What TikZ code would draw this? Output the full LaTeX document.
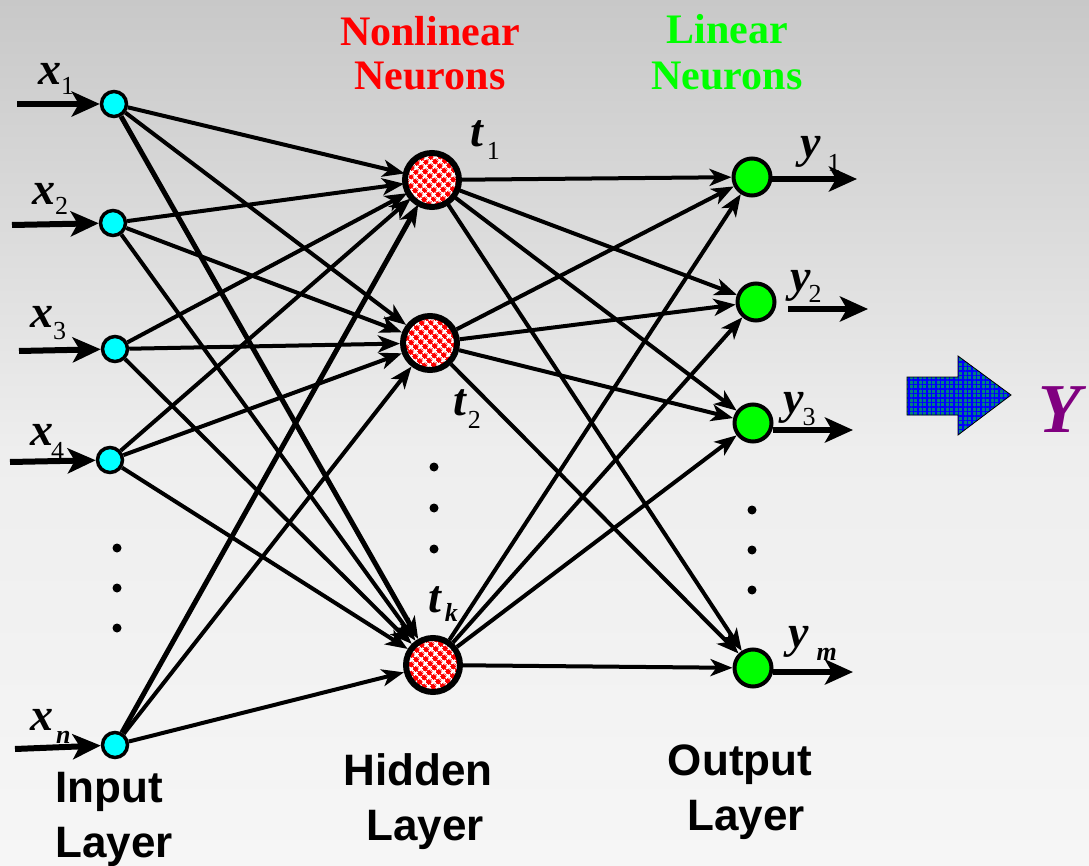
\documentclass[tikz,border=0pt]{standalone}
\usepackage{fontspec}
\setmainfont{Liberation Serif}
\newfontfamily\arialf{Liberation Sans}
\usetikzlibrary{arrows.meta,patterns.meta}
\definecolor{bgtop}{RGB}{200,200,200}
\definecolor{bgmid}{RGB}{238,238,238}
\definecolor{bgbot}{RGB}{246,246,246}
\definecolor{nred}{RGB}{255,0,0}
\definecolor{ngreen}{RGB}{0,255,0}
\definecolor{ncyan}{RGB}{0,255,255}
\definecolor{ypurple}{RGB}{128,0,128}
\definecolor{gridteal}{RGB}{0,128,128}
\newcommand\vlab[3]{{\fontsize{46}{46}\selectfont\bfseries\itshape #1}\raisebox{-#3}{\fontsize{26}{26}\selectfont #2}}
\begin{document}
\begin{tikzpicture}[x=1pt,y=-1pt,
  innode/.style={circle,draw=black,line width=3.5pt,fill=ncyan,minimum size=25pt,inner sep=0pt},
  hidnode/.style={circle,draw=black,line width=6pt,minimum size=54pt,inner sep=0pt,
     preaction={fill=nred},
     pattern={Hatch[angle=45,distance=6.5pt,line width=2.2pt]},pattern color=white},
  outnode/.style={circle,draw=black,line width=4pt,fill=ngreen,minimum size=37pt,inner sep=0pt},
  conn/.style={line width=4pt,-{Stealth[length=22pt,width=17pt,inset=6pt]}},
  thickconn/.style={conn,line width=5pt},
  ioarrow/.style={line width=6pt,-{Stealth[length=28pt,width=25pt,inset=7pt]}},
  lab/.style={anchor=base west,inner sep=0pt},
  dotn/.style={circle,fill=black,minimum size=9pt,inner sep=0pt},
  title/.style={anchor=base,inner sep=0pt,font=\fontsize{42}{42}\selectfont\bfseries},
  layer/.style={anchor=base,inner sep=0pt,font=\arialf\fontsize{44}{44}\selectfont\bfseries}]
\useasboundingbox (0,0) rectangle (1089,866);
\shade[top color=bgtop,bottom color=bgmid] (0,0) rectangle (1089,451);
\shade[top color=bgmid,bottom color=bgbot] (0,450) rectangle (1089,866);

% titles
\node[title,text=nred] (t1a) at (430,46) {Nonlinear};
\node[title,text=nred] (t1b) at (430,90) {Neurons};
\node[title,text=ngreen] (t2a) at (727,44) {Linear};
\node[title,text=ngreen] (t2b) at (727,90) {Neurons};

% nodes
\node[innode] (x1) at (114,104) {};
\node[innode] (x2) at (113,223) {};
\node[innode] (x3) at (115,349) {};
\node[innode] (x4) at (110,460) {};
\node[innode] (xn) at (115,745) {};
\node[hidnode] (h1) at (432,180) {};
\node[hidnode] (h2) at (430,343) {};
\node[hidnode] (hk) at (433,665) {};
\node[outnode] (y1) at (752,177) {};
\node[outnode] (y2) at (756,302) {};
\node[outnode] (y3) at (753,423) {};
\node[outnode] (ym) at (753,668) {};

% dots
\node[dotn] (d1) at (117,548) {};
\node[dotn] (d2) at (117,588) {};
\node[dotn] (d3) at (117,628) {};
\node[dotn] (d4) at (434,467) {};
\node[dotn] (d5) at (434,508) {};
\node[dotn] (d6) at (434,549) {};
\node[dotn] (d7) at (752,510) {};
\node[dotn] (d8) at (752,550) {};
\node[dotn] (d9) at (752,590) {};

% input -> hidden
\draw[conn] (x1) -- (h1);
\draw[conn] (x1) -- (h2);
\draw[thickconn] (x1) -- (hk);
\draw[conn] (x2) -- (h1);
\draw[conn] (x2) -- (h2);
\draw[conn] (x2) -- (hk);
\draw[conn] (x3) -- (h1);
\draw[conn] (x3) -- (h2);
\draw[conn] (x3) -- (hk);
\draw[conn] (x4) -- (h1);
\draw[conn] (x4) -- (h2);
\draw[conn] (x4) -- (hk);
\draw[thickconn] (xn) -- (h1);
\draw[conn] (xn) -- (h2);
\draw[conn] (xn) -- (hk);
% hidden -> output
\foreach \h in {h1,h2,hk}{
  \foreach \o in {y1,y2,y3,ym}{
    \draw[conn] (\h) -- (\o);
  }
}

% input arrows
\coordinate (ix1) at (17,104);
\coordinate (ix2) at (12,225);
\coordinate (ix3) at (19,351);
\coordinate (ix4) at (10,462);
\coordinate (ixn) at (15,749);
\draw[ioarrow] (ix1) -- (x1);
\draw[ioarrow] (ix2) -- (x2);
\draw[ioarrow] (ix3) -- (x3);
\draw[ioarrow] (ix4) -- (x4);
\draw[ioarrow] (ixn) -- (xn);

% output arrows
\coordinate (oy1a) at (772,179);
\coordinate (oy1) at (857,179);
\coordinate (oy2a) at (788,309);
\coordinate (oy2) at (868,309);
\coordinate (oy3a) at (773,430);
\coordinate (oy3) at (853,430);
\coordinate (oyma) at (773,672);
\coordinate (oym) at (853,672);
\draw[ioarrow] (oy1a) -- (oy1);
\draw[ioarrow] (oy2a) -- (oy2);
\draw[ioarrow] (oy3a) -- (oy3);
\draw[ioarrow] (oyma) -- (oym);

% labels
\node[lab] (lx1) at (38,85) {\vlab{x}{1}{10pt}};
\node[lab] (lx2) at (32,205) {\vlab{x}{2}{10pt}};
\node[lab] (lx3) at (30,327) {\vlab{x}{3}{13pt}};
\node[lab] (lx4) at (30,445) {\vlab{x}{\kern-2pt 4}{14pt}};
\node[lab] (lxn) at (30,730) {\vlab{x}{\kern3pt\bfseries\itshape n}{13pt}};
\node[lab] (lt1) at (470,147) {\vlab{t}{\kern4pt 1}{13pt}};
\node[lab] (lt2) at (453,415) {\vlab{t}{\kern2pt 2}{13pt}};
\node[lab] (ltk) at (428,612) {\vlab{t}{\kern4pt\bfseries\itshape k}{9pt}};
\node[lab] (ly1) at (800,158) {\vlab{y}{\kern7pt 1}{14pt}};
\node[lab] (ly2) at (790,292) {\vlab{y}{\kern-2pt 2}{11pt}};
\node[lab] (ly3) at (783,413) {\vlab{y}{\kern-1pt 3}{12pt}};
\node[lab] (lym) at (788,647) {\vlab{y}{\kern8pt\bfseries\itshape m}{13pt}};

% layer labels
\node[layer] (il1) at (109,802) {Input};
\node[layer] (il2) at (114,857) {Layer};
\node[layer] (hl1) at (418,785) {Hidden};
\node[layer] (hl2) at (425,840) {Layer};
\node[layer] (ol1) at (740,775) {Output};
\node[layer] (ol2) at (746,830) {Layer};

% big arrow and Y
\draw[line width=0.8pt,preaction={fill=gridteal},
      pattern={Hatch[angle=0,distance=4.5pt,line width=1.5pt]},pattern color=blue]
  (907,377) -- (958,377) -- (958,356) -- (1011,395) -- (958,435) -- (958,415) -- (907,415) -- cycle;
\node[lab,text=ypurple] (Y) at (1038,432) {\fontsize{70}{70}\selectfont\bfseries\itshape Y};
\end{tikzpicture}
\end{document}
